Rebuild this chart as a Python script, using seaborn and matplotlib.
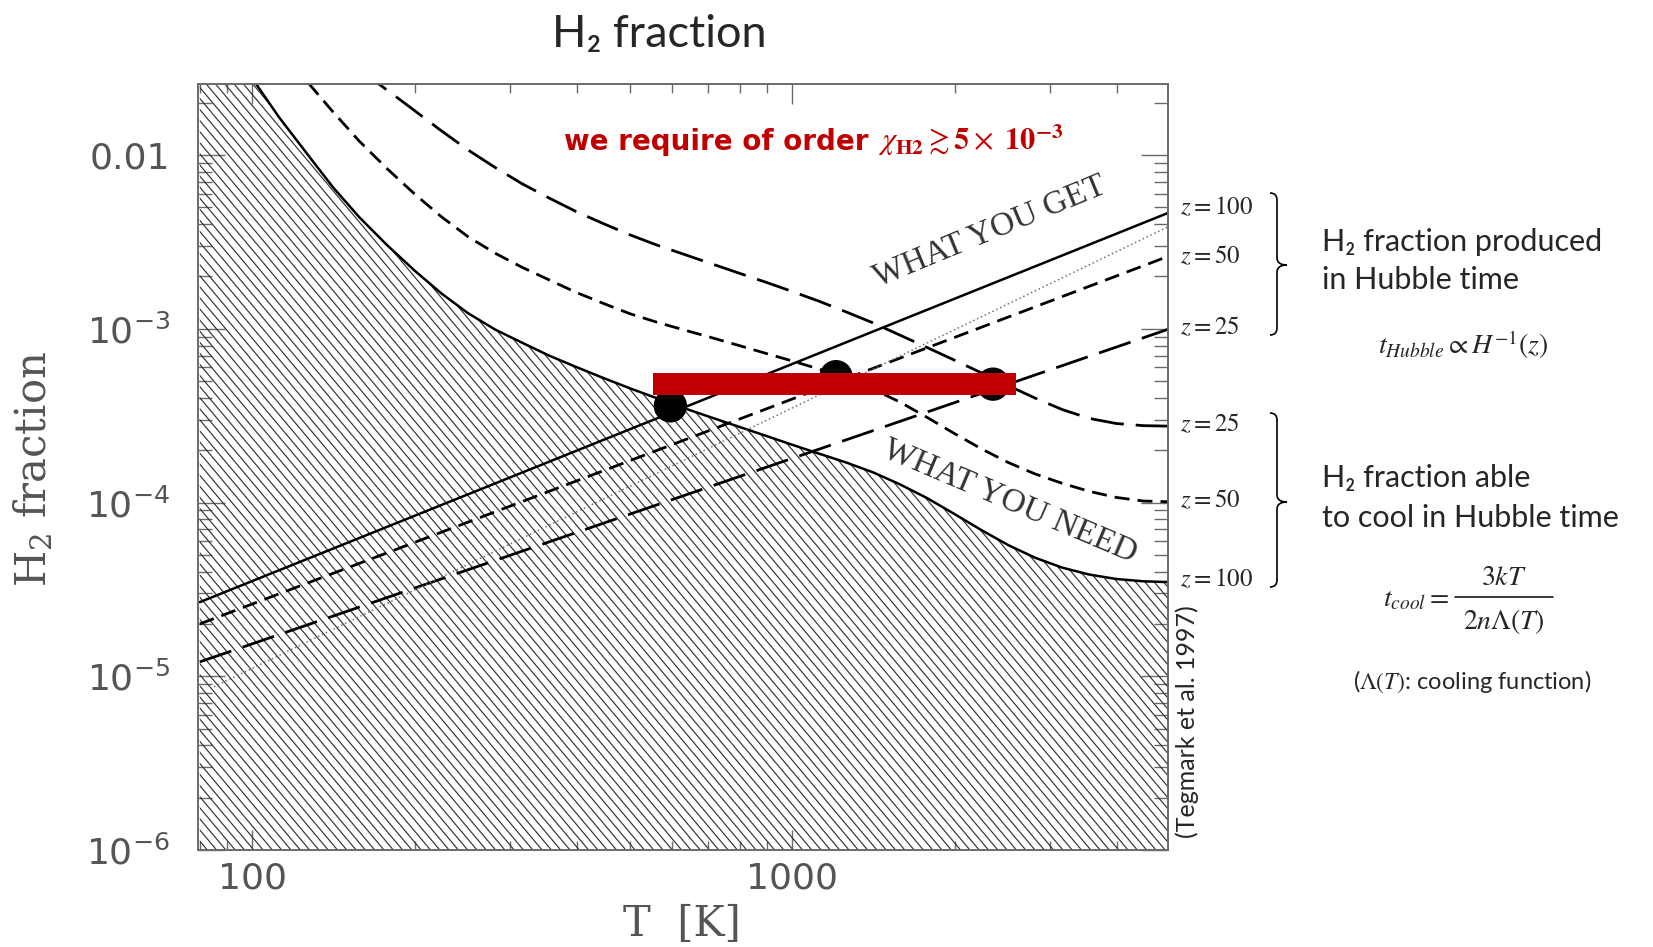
import numpy as np
import matplotlib
matplotlib.use("Agg")
import matplotlib.pyplot as plt
import matplotlib.ticker as mticker
from matplotlib.path import Path
from matplotlib.patches import PathPatch
from matplotlib.lines import Line2D
from matplotlib.collections import LineCollection
import seaborn as sns

# ---------------------------------------------------------------- data
# H2 fraction needed to cool within a Hubble time (Tegmark et al. 1997)
need_z100_T = [80, 100, 112, 126, 141, 158, 178, 200, 224, 251, 282, 316, 355,
               398, 447, 501, 562, 631, 708, 794, 891, 1000, 1122, 1259, 1413,
               1585, 1778, 1995, 2239, 2512, 2818, 3162, 3548, 3981, 4467, 5012]
need_z100_f = [8.3e-2, 2.77e-2, 1.66e-2, 1.03e-2, 6.55e-3, 4.38e-3, 3.02e-3,
               2.16e-3, 1.60e-3, 1.23e-3, 9.89e-4, 8.32e-4, 7.00e-4, 6.03e-4,
               5.21e-4, 4.54e-4, 3.98e-4, 3.49e-4, 3.09e-4, 2.74e-4, 2.43e-4,
               2.15e-4, 1.91e-4, 1.70e-4, 1.49e-4, 1.27e-4, 1.06e-4, 8.61e-5,
               6.95e-5, 5.69e-5, 4.81e-5, 4.22e-5, 3.85e-5, 3.63e-5, 3.52e-5,
               3.48e-5]

need_z50_T = [112, 126, 141, 158, 178, 200, 224, 251, 282, 316, 355, 398, 447,
              501, 562, 631, 708, 794, 891, 1000, 1122, 1259, 1413, 1585, 1778,
              1995, 2239, 2512, 2818, 3162, 3548, 3981, 4467, 5012]
need_z50_f = [4.12e-2, 2.68e-2, 1.78e-2, 1.20e-2, 8.32e-3, 5.96e-3, 4.42e-3,
              3.39e-3, 2.72e-3, 2.26e-3, 1.91e-3, 1.62e-3, 1.40e-3, 1.22e-3,
              1.09e-3, 9.84e-4, 8.91e-4, 8.04e-4, 7.24e-4, 6.53e-4, 5.86e-4,
              5.19e-4, 4.49e-4, 3.78e-4, 3.09e-4, 2.50e-4, 2.04e-4, 1.70e-4,
              1.46e-4, 1.29e-4, 1.16e-4, 1.07e-4, 1.02e-4, 1.01e-4]

need_z25_T = [158, 178, 200, 224, 251, 282, 316, 355, 398, 447, 501, 562, 631,
              708, 794, 891, 1000, 1122, 1259, 1413, 1585, 1778, 1995, 2239,
              2512, 2818, 3162, 3548, 3981, 4467, 5012]
need_z25_f = [3.09e-2, 2.36e-2, 1.80e-2, 1.38e-2, 1.07e-2, 8.47e-3, 6.84e-3,
              5.65e-3, 4.73e-3, 4.03e-3, 3.47e-3, 3.03e-3, 2.68e-3, 2.37e-3,
              2.10e-3, 1.86e-3, 1.64e-3, 1.44e-3, 1.25e-3, 1.08e-3, 9.18e-4,
              7.80e-4, 6.61e-4, 5.58e-4, 4.71e-4, 3.99e-4, 3.43e-4, 3.05e-4,
              2.85e-4, 2.77e-4, 2.75e-4]

# H2 fraction produced within a Hubble time (power laws in T)
get_T = [80, 5000]
get_z100_f = [2.67e-5, 4.68e-3]
get_z50_f = [2.0e-5, 2.63e-3]
get_z25_f = [1.21e-5, 1.0e-3]
dotted_T = [85, 5000]
dotted_f = [8.7e-6, 3.9e-3]

# where produced == needed
cross_T = [595, 1206, 2355]
cross_f = [3.6e-4, 5.3e-4, 4.8e-4]

# required fraction band
bar_T = [553, 2600]
bar_f = 4.8e-4

x_ticks = [100, 1000]
x_labels = ["100", "1000"]
y_ticks = [1e-6, 1e-5, 1e-4, 1e-3, 1e-2]
y_labels = [r"$10^{-6}$", r"$10^{-5}$", r"$10^{-4}$", r"$10^{-3}$", "0.01"]

z_get_labels = ["100", "50", "25"]
z_need_labels = ["25", "50", "100"]

# ---------------------------------------------------------------- style
sns.set_style("ticks")
plt.rcParams["mathtext.fontset"] = "stix"
plt.rcParams["font.family"] = ["DejaVu Sans"]

RED = "#c00000"
W, H = 1653, 947
fig = plt.figure(figsize=(W / 100, H / 100), dpi=100)
fig.patch.set_facecolor("white")


def fx(x):
    return x / W


def fy(y):
    return 1 - y / H


AX_L, AX_R, AX_T, AX_B = 198, 1168, 84, 850
ax = fig.add_axes([fx(AX_L), fy(AX_B), (AX_R - AX_L) / W, (AX_B - AX_T) / H])
ax.set_facecolor("white")
ax.set_xscale("log")
ax.set_yscale("log")
ax.set_xlim(79.4, 4966)
ax.set_ylim(1e-6, 0.02563)

# forbidden region below the z=100 cooling curve, shaded with diagonal hatching
region = ax.fill_between(need_z100_T, 1e-7, need_z100_f, facecolor="none",
                         edgecolor="none", linewidth=0, zorder=0.5)
axw, axh = AX_R - AX_L, AX_B - AX_T
angle = np.deg2rad(50)
step = 9.3
shift = axh / np.tan(angle)
starts = np.arange(0, axw + shift + step, step)
segs = [[(x0 / axw, 0.0), ((x0 - shift) / axw, 1.0)] for x0 in starts]
hatch = LineCollection(segs, transform=ax.transAxes, colors="#333333",
                       linewidths=0.85, zorder=0.6)
ax.add_collection(hatch)
hatch.set_clip_path(region.get_paths()[0], region.get_transform())

solid = dict(color="black", lw=1.8)
short = dict(color="black", lw=2.0, linestyle=(0, (5.4, 2.9)))
long_ = dict(color="black", lw=2.0, linestyle=(0, (12, 4.3)))

for T, f, st in [(need_z100_T, need_z100_f, solid),
                 (need_z50_T, need_z50_f, short),
                 (need_z25_T, need_z25_f, long_),
                 (get_T, get_z100_f, solid),
                 (get_T, get_z50_f, short),
                 (get_T, get_z25_f, long_)]:
    sns.lineplot(x=T, y=f, ax=ax, estimator=None, sort=False, zorder=2, **st)

sns.lineplot(x=dotted_T, y=dotted_f, ax=ax, estimator=None, sort=False,
             color="#707070", lw=1.1, linestyle=(0, (1, 1.8)), zorder=2)

sns.scatterplot(x=cross_T, y=cross_f, ax=ax, s=24 ** 2, color="black",
                edgecolor="none", zorder=4)

ax.plot(bar_T, [bar_f, bar_f], color=RED, lw=15.8,
        solid_capstyle="butt", zorder=5)

# axes frame and ticks
for sp in ax.spines.values():
    sp.set_visible(True)
    sp.set_color("#6a6a6a")
    sp.set_linewidth(1.4)
    sp.set_zorder(6)

ax.set_xticks(x_ticks)
ax.set_xticklabels(x_labels)
ax.set_yticks(y_ticks)
ax.set_yticklabels(y_labels)
ax.xaxis.set_minor_locator(mticker.LogLocator(base=10, subs=range(2, 10), numticks=20))
ax.yaxis.set_minor_locator(mticker.LogLocator(base=10, subs=range(2, 10), numticks=20))
ax.xaxis.set_minor_formatter(mticker.NullFormatter())
ax.yaxis.set_minor_formatter(mticker.NullFormatter())
ax.tick_params(which="both", direction="in", top=True, right=True,
               color="#6a6a6a", width=1.0, labelcolor="#555555", labelsize=26)
ax.tick_params(axis="x", which="major", length=14.5, pad=8)
ax.tick_params(axis="x", which="minor", length=6.5)
ax.tick_params(axis="y", which="major", length=19.5, pad=20)
ax.tick_params(axis="y", which="minor", length=10)
for lab in ax.get_yticklabels():
    lab.set_math_fontfamily("dejavusans")

ax.set_xlabel("")
ax.set_ylabel("")
fig.text(fx(682), fy(924), "T  [K]", family="DejaVu Serif", fontsize=30,
         color="#555555", ha="center", va="center")
fig.text(fx(34), fy(469), "H$_2$ fraction", family="DejaVu Serif", fontsize=30,
         color="#555555", ha="center", va="center", rotation=90,
         math_fontfamily="dejavuserif")

# title
fig.text(fx(659), fy(47), "H₂ fraction", family=["Lato", "DejaVu Sans"],
         fontsize=32.5, ha="center", va="baseline")

# requirement note: bold words followed by the formula
renderer = fig.canvas.get_renderer()
note = fig.text(fx(564), fy(150), "we require of order", fontsize=20,
                fontweight="bold", color=RED, va="baseline")
nb = note.get_window_extent(renderer)
fig.text(fx(nb.x1 + 9), fy(150),
         r"$\chi_{\mathbf{H2}}\gtrsim\mathbf{5}\times\ \mathbf{10}^{\mathbf{-3}}$",
         fontsize=22, color=RED, va="baseline")

# curve annotations
fig.text(fx(990), fy(232), "WHAT YOU GET", family="Liberation Serif",
         fontsize=24, color="#333333", rotation=22.4, rotation_mode="anchor",
         ha="center", va="center")
fig.text(fx(1010), fy(501), "WHAT YOU NEED", family="Liberation Serif",
         fontsize=24, color="#333333", rotation=-23, rotation_mode="anchor",
         ha="center", va="center")

for z, y in zip(z_get_labels + z_need_labels, [207, 256, 327, 424, 500, 579]):
    fig.text(fx(1180), fy(y), rf"$z = {z}$", fontsize=18, ha="left", va="center")

fig.text(fx(1187), fy(722), "(Tegmark et al. 1997)", family=["Lato", "DejaVu Sans"],
         fontsize=18, rotation=90, ha="center", va="center")


# curly braces grouping the z labels
def brace(x0, xt, y0, ym, y1):
    xl = x0 + 7
    r = 7
    verts = [(x0, y0), (xl, y0), (xl, y0 + r),
             (xl, ym - r),
             (xl, ym), (xt, ym),
             (xl, ym), (xl, ym + r),
             (xl, y1 - r),
             (xl, y1), (x0, y1)]
    codes = [Path.MOVETO, Path.CURVE3, Path.CURVE3,
             Path.LINETO,
             Path.CURVE3, Path.CURVE3,
             Path.CURVE3, Path.CURVE3,
             Path.LINETO,
             Path.CURVE3, Path.CURVE3]
    p = Path([(fx(a), fy(b)) for a, b in verts], codes)
    fig.add_artist(PathPatch(p, transform=fig.transFigure, fill=False,
                             lw=1.2, edgecolor="black"))


brace(1270, 1287, 193, 265, 335)
brace(1270, 1287, 413, 502, 587)

sans = ["Lato", "DejaVu Sans"]
fig.text(fx(1322), fy(242), "H₂ fraction produced", family=sans, fontsize=22, va="center")
fig.text(fx(1322), fy(280), "in Hubble time", family=sans, fontsize=22, va="center")
fig.text(fx(1463), fy(345), r"$t_{Hubble}\propto H^{-1}(z)$", fontsize=20,
         ha="center", va="center")
fig.text(fx(1322), fy(478), "H₂ fraction able", family=sans, fontsize=22, va="center")
fig.text(fx(1322), fy(518), "to cool in Hubble time", family=sans, fontsize=22, va="center")

# cooling time formula, laid out as a built fraction
fig.text(fx(1383), fy(606), r"$t_{cool} =$", fontsize=20, ha="left", va="baseline")
fig.text(fx(1504), fy(577), r"$3kT$", fontsize=20, ha="center", va="center")
fig.text(fx(1504), fy(621), r"$2n\Lambda(T)$", fontsize=20, ha="center", va="center")
fig.add_artist(Line2D([fx(1455), fx(1553)], [fy(597), fy(597)],
                      transform=fig.transFigure, color="black", lw=1.1))

fig.text(fx(1472), fy(682), r"($\Lambda(T)$: cooling function)", family=sans,
         fontsize=17, ha="center", va="center")

fig.savefig("out.png", dpi=100, facecolor="white")
